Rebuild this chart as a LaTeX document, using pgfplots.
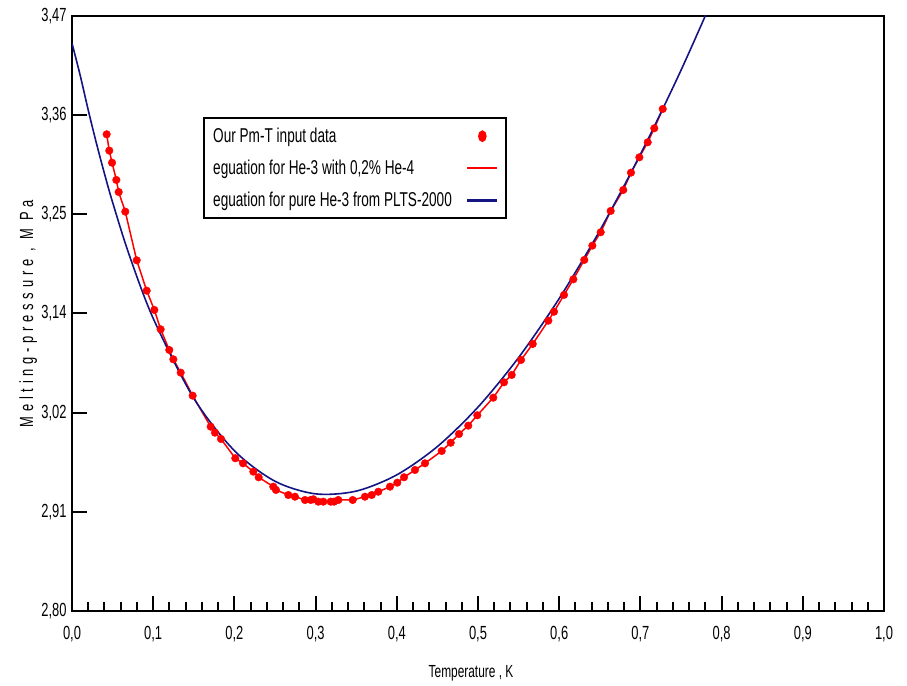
\documentclass[border=0pt]{standalone}
\usepackage{fontspec}
\setmainfont{Liberation Sans}[FakeStretch=0.68]
\newfontfamily\spacedfont{Liberation Sans}[FakeStretch=0.68,LetterSpace=25]
\usepackage{pgfplots}
\usepackage{pgfplotstable}
\pgfplotsset{compat=1.18}
\definecolor{navyline}{RGB}{20,20,130}

% measured melting-pressure points (T in K, P in MPa)
\pgfplotstableread{
T P
0.0427 3.3368
0.0459 3.3184
0.0493 3.3048
0.0546 3.2854
0.0575 3.2718
0.0656 3.2497
0.0797 3.1949
0.0920 3.1607
0.1014 3.1390
0.1092 3.1172
0.1198 3.0939
0.1248 3.0834
0.1339 3.0684
0.1486 3.0425
0.1708 3.0075
0.1761 3.0008
0.1835 2.9937
0.2011 2.9720
0.2106 2.9663
0.2233 2.9569
0.2299 2.9506
0.2479 2.9400
0.2512 2.9363
0.2664 2.9306
0.2746 2.9287
0.2869 2.9250
0.2940 2.9250
0.2972 2.9258
0.3033 2.9231
0.3095 2.9231
0.3186 2.9231
0.3227 2.9231
0.3280 2.9250
0.3457 2.9250
0.3608 2.9287
0.3691 2.9306
0.3772 2.9343
0.3916 2.9400
0.4006 2.9445
0.4089 2.9506
0.4224 2.9588
0.4347 2.9663
0.4553 2.9802
0.4664 2.9895
0.4766 2.9993
0.4880 3.0087
0.4991 3.0204
0.5188 3.0402
0.5320 3.0575
0.5415 3.0658
0.5530 3.0827
0.5674 3.1007
0.5866 3.1269
0.5936 3.1370
0.6059 3.1559
0.6174 3.1735
0.6309 3.1953
0.6408 3.2114
0.6511 3.2265
0.6634 3.2505
0.6789 3.2741
0.6884 3.2936
0.6987 3.3109
0.7090 3.3278
0.7171 3.3436
0.7275 3.3653
}\measured

% pure He-3 curve
\pgfplotstableread{
T P
0.00 3.4393
0.01 3.4035
0.02 3.3640
0.03 3.3270
0.04 3.2924
0.05 3.2602
0.07 3.2022
0.10 3.1295
0.15 3.0395
0.20 2.9805
0.25 2.9461
0.30 2.9319
0.35 2.9350
0.40 2.9533
0.45 2.9852
0.50 3.0296
0.55 3.0854
0.60 3.1519
0.65 3.2284
0.70 3.3142
0.75 3.4089
0.80 3.5120
}\pure

\begin{document}
\begin{tikzpicture}[font=\fontsize{19}{23}\selectfont]
\begin{axis}[
  scale only axis, width=812pt, height=595pt,
  xmin=0, xmax=1, ymin=2.80, ymax=3.47,
  xtick={0,0.1,0.2,0.3,0.4,0.5,0.6,0.7,0.8,0.9,1.0},
  xticklabels={{0,0},{0,1},{0,2},{0,3},{0,4},{0,5},{0,6},{0,7},{0,8},{0,9},{1,0}},
  ytick={2.80,2.911667,3.023333,3.135,3.246667,3.358333,3.47},
  yticklabels={{2,80},{2,91},{3,02},{3,14},{3,25},{3,36},{3,47}},
  minor x tick num=4, minor y tick num=4,
  tick align=inside, tick pos=left,
  axis line style={line width=2.5pt},
  tick style={line width=2pt, black},
  major tick length=15pt, minor tick length=8.5pt,
  xticklabel style={yshift=-12pt},
  yticklabel style={xshift=-2pt},
  xlabel={\fontsize{17.5}{21}\selectfont Temperature , K},
  ylabel={\spacedfont Melting-pressure , M Pa},
  xlabel style={at={(axis description cs:0.4914,-0.1042)}, anchor=center},
  ylabel style={at={(axis description cs:-0.054,0.5)}, anchor=center},
  legend style={at={(rel axis cs:0.1613,0.8303)}, anchor=north west,
    draw=black, line width=2.5pt, fill=white,
    inner xsep=7pt, inner ysep=8pt, row sep=12pt, column sep=12pt,
    nodes={inner sep=2pt}, font=\fontsize{20}{24}\selectfont},
  legend cell align=left, legend plot pos=right,
]
\addlegendimage{legend image code/.code={\fill[red] (15pt,0pt) ellipse (3pt and 4.5pt);}}
\addlegendentry{Our Pm-T input data}
\addlegendimage{legend image code/.code={\draw[red, line width=2.5pt] (0pt,0pt) -- (30pt,0pt);}}
\addlegendentry{eguation for He-3 with 0,2\% He-4}
\addlegendimage{legend image code/.code={\draw[navyline, line width=3pt] (0pt,0pt) -- (30pt,0pt);}}
\addlegendentry{eguation for pure He-3 from PLTS-2000}

\addplot[red, line width=1.5pt, forget plot] table[x=T, y=P] {\measured};
\addplot[only marks, mark=*, mark size=3.8pt, mark options={fill=red, draw=red}, forget plot]
  table[x=T, y=P] {\measured};
\addplot[navyline, line width=1.6pt, smooth, forget plot] table[x=T, y=P] {\pure};

\coordinate (sw) at (rel axis cs:0,0);
\coordinate (ne) at (rel axis cs:1,1);
\end{axis}
\path ([shift={(-72pt,-75pt)}]sw) rectangle ([shift={(23pt,16pt)}]ne);
\end{tikzpicture}
\end{document}
